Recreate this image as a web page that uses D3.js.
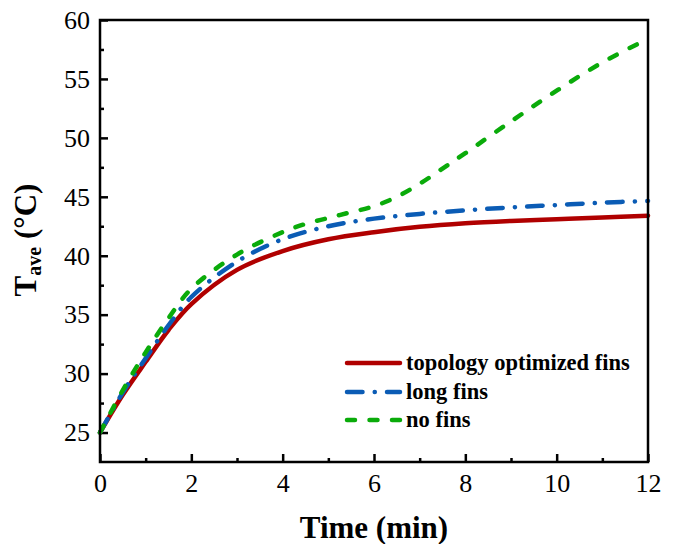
<!DOCTYPE html>
<html>
<head>
<meta charset="utf-8">
<script src="https://cdn.jsdelivr.net/npm/d3@7"></script>
<style>
  body { margin: 0; background: #fff; }
  svg { display: block; }
</style>
</head>
<body>
<script>
// Time points (min) for each curve
const timeRed = [0, 0.5, 1, 1.5, 2, 3, 4, 5, 6, 7, 8, 9, 10, 11, 12];
const tempRed = [25, 28.2, 31.0, 33.7, 35.9, 38.8, 40.4, 41.4, 42.0, 42.45, 42.75, 42.95, 43.1, 43.25, 43.4];

const timeBlue = [0, 0.5, 1, 1.5, 2, 3, 4, 5, 6, 7, 8, 9, 10, 11, 12];
const tempBlue = [25, 28.4, 31.3, 34.1, 36.5, 39.5, 41.4, 42.5, 43.15, 43.55, 43.85, 44.1, 44.3, 44.5, 44.65];

const timeGreen = [0, 0.5, 1, 1.5, 2, 3, 4, 4.5, 5, 5.5, 6, 6.5, 7, 7.5, 8, 9, 10, 11, 12];
const tempGreen = [25, 28.6, 31.8, 34.7, 37.2, 40.1, 42.0, 42.7, 43.2, 43.7, 44.2, 45.0, 46.1, 47.4, 48.7, 51.4, 54.0, 56.4, 58.4];

const seriesNames = ["topology optimized fins", "long fins", "no fins"];

const xMajorTicks = [0, 2, 4, 6, 8, 10, 12];
const xMinorTicks = [1, 3, 5, 7, 9, 11];
const yMajorTicks = [25, 30, 35, 40, 45, 50, 55, 60];
const yMinorTicks = [27.5, 32.5, 37.5, 42.5, 47.5, 52.5, 57.5];

const width = 678, height = 544;
const margin = {left: 100, right: 30, top: 20, bottom: 82};

const svg = d3.select('body').append('svg')
  .attr('width', width)
  .attr('height', height);

const x = d3.scaleLinear().domain([0, 12]).range([margin.left, width - margin.right]);
const y = d3.scaleLinear().domain([22.5, 60]).range([height - margin.bottom, margin.top]);

const serif = '"Liberation Serif", "Times New Roman", serif';

/**
 * Inward ticks, styled like the original plot
 */
function styleAxis(g) {
  g.attr('font-family', null);
  g.select('.domain').remove();
  g.selectAll('.tick line').attr('stroke', '#000').attr('stroke-width', 2.5);
  g.selectAll('.tick text')
    .attr('fill', '#000')
    .style('font-family', serif)
    .style('font-size', '26px');
}

// x axis, major and minor ticks
svg.append('g')
  .attr('transform', `translate(0,${y.range()[0]})`)
  .call(d3.axisBottom(x).tickValues(xMajorTicks).tickSize(-8).tickPadding(12).tickFormat(d3.format('d')))
  .call(styleAxis);
svg.append('g')
  .attr('transform', `translate(0,${y.range()[0]})`)
  .call(d3.axisBottom(x).tickValues(xMinorTicks).tickSize(-4).tickFormat(''))
  .call(styleAxis);

// y axis, major and minor ticks
svg.append('g')
  .attr('transform', `translate(${x.range()[0]},0)`)
  .call(d3.axisLeft(y).tickValues(yMajorTicks).tickSize(-8).tickPadding(10).tickFormat(d3.format('d')))
  .call(styleAxis);
svg.append('g')
  .attr('transform', `translate(${x.range()[0]},0)`)
  .call(d3.axisLeft(y).tickValues(yMinorTicks).tickSize(-4).tickFormat(''))
  .call(styleAxis);

// Curves
const line = d3.line()
  .x(d => x(d[0]))
  .y(d => y(d[1]))
  .curve(d3.curveCatmullRom.alpha(0.5));

const series = [
  {name: seriesNames[0], pts: d3.zip(timeRed, tempRed), color: '#b00000', dash: null},
  {name: seriesNames[1], pts: d3.zip(timeBlue, tempBlue), color: '#0b5cb5', dash: '15.5,12.2,0.1,12.2'},
  {name: seriesNames[2], pts: d3.zip(timeGreen, tempGreen), color: '#0aab0a', dash: '8,14.5'}
];

svg.append('g').selectAll('path')
  .data(series)
  .join('path')
  .attr('d', d => line(d.pts))
  .attr('fill', 'none')
  .attr('stroke', d => d.color)
  .attr('stroke-width', 4.5)
  .attr('stroke-linecap', 'round')
  .attr('stroke-dasharray', d => d.dash);

// Frame around the plot
svg.append('rect')
  .attr('x', x.range()[0])
  .attr('y', y.range()[1])
  .attr('width', x.range()[1] - x.range()[0])
  .attr('height', y.range()[0] - y.range()[1])
  .attr('fill', 'none')
  .attr('stroke', '#000')
  .attr('stroke-width', 2.5);

// Legend
const legend = svg.append('g').attr('transform', 'translate(347,0)');
const legendRows = [363, 392, 420];
series.forEach((s, i) => {
  legend.append('line')
    .attr('x1', 0).attr('x2', 53)
    .attr('y1', legendRows[i]).attr('y2', legendRows[i])
    .attr('stroke', s.color)
    .attr('stroke-width', 4.5)
    .attr('stroke-linecap', 'round')
    .attr('stroke-dasharray', s.dash);
  legend.append('text')
    .attr('x', 59)
    .attr('y', legendRows[i])
    .attr('dy', '0.32em')
    .style('font-family', serif)
    .style('font-weight', 'bold')
    .style('font-size', '22.5px')
    .text(s.name);
});

// Axis titles
svg.append('text')
  .attr('x', (x.range()[0] + x.range()[1]) / 2)
  .attr('y', 538)
  .attr('text-anchor', 'middle')
  .style('font-family', serif)
  .style('font-weight', 'bold')
  .style('font-size', '31px')
  .text('Time (min)');

const yTitle = svg.append('text')
  .attr('transform', 'translate(36,240) rotate(-90)')
  .attr('text-anchor', 'middle')
  .style('font-family', serif)
  .style('font-weight', 'bold')
  .style('font-size', '31px');
yTitle.append('tspan').text('T');
yTitle.append('tspan').attr('dy', 5).style('font-size', '20px').text('ave');
yTitle.append('tspan').attr('dy', -5).text(' (°C)');
</script>
</body>
</html>
